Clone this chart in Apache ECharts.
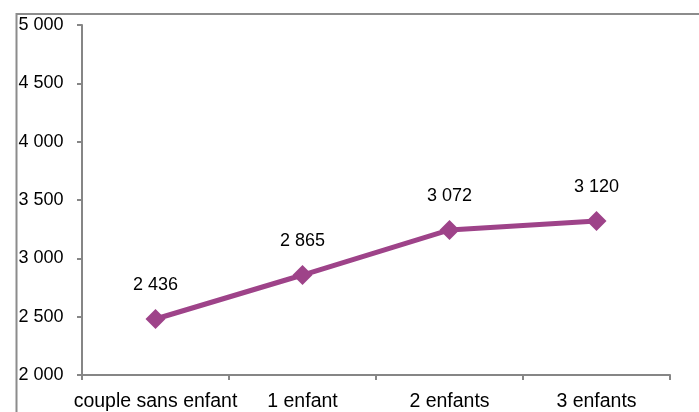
<!DOCTYPE html>
<html>
<head>
<meta charset="utf-8">
<script src="https://cdn.jsdelivr.net/npm/echarts@6/dist/echarts.min.js"></script>
<style>
html,body{margin:0;padding:0;background:#fff;}
#chart{width:699px;height:412px;}
</style>
</head>
<body>
<div id="chart"></div>
<script>
var categories = ["couple sans enfant", "1 enfant", "2 enfants", "3 enfants"];
var values = [2480, 2857, 3243, 3320];
var labelTexts = ["2 436", "2 865", "3 072", "3 120"];
var yMin = 2000, yMax = 5000, yStep = 500;

function fmt(v) {
  var s = String(Math.round(v));
  return s.replace(/\B(?=(\d{3})+(?!\d))/g, " ");
}

var chart = echarts.init(document.getElementById('chart'), null, {renderer: 'canvas'});
var font = "'Liberation Sans', Arial, sans-serif";
chart.setOption({
  animation: false,
  backgroundColor: '#ffffff',
  grid: {left: 82, right: 29, top: 25, bottom: 37, containLabel: false},
  graphic: [{
    type: 'polyline',
    silent: true,
    shape: {points: [[16.5, 412], [16.5, 14], [699, 14]]},
    style: {stroke: '#8c8c8c', lineWidth: 2, fill: null}
  }],
  xAxis: {
    type: 'category',
    data: categories,
    boundaryGap: true,
    axisLine: {lineStyle: {color: '#868686', width: 2}},
    axisTick: {show: true, length: 5, alignWithLabel: false, lineStyle: {color: '#868686', width: 2}},
    axisLabel: {color: '#000', fontSize: 19.5, fontFamily: font, margin: 17, interval: 0},
    splitLine: {show: false}
  },
  yAxis: {
    type: 'value',
    min: yMin, max: yMax, interval: yStep,
    axisLine: {show: true, lineStyle: {color: '#868686', width: 2}},
    axisTick: {show: true, length: 5, lineStyle: {color: '#868686', width: 2}},
    axisLabel: {color: '#000', fontSize: 18, fontFamily: font, margin: 18.5, formatter: fmt},
    splitLine: {show: false}
  },
  series: [{
    type: 'line',
    data: values,
    symbol: 'diamond',
    symbolSize: 20,
    showAllSymbol: true,
    lineStyle: {color: '#9e4389', width: 5},
    itemStyle: {color: '#9e4389'},
    label: {
      show: true,
      position: 'top',
      distance: 15,
      color: '#000',
      fontSize: 18,
      fontFamily: font,
      formatter: function (p) { return labelTexts[p.dataIndex]; }
    }
  }]
});
</script>
</body>
</html>
